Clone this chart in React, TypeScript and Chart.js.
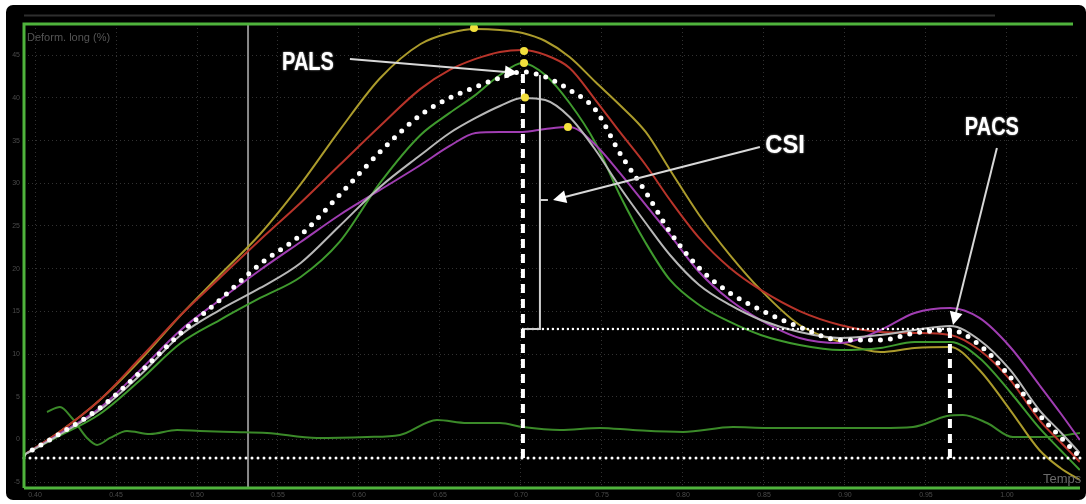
import React, { useEffect, useRef } from "react";
import { Chart, registerables } from "chart.js";

Chart.register(...registerables);

// ---- time samples (s) ----
const TIME = [0.393, 0.415, 0.440, 0.465, 0.490, 0.514, 0.539, 0.564, 0.588, 0.613, 0.638, 0.656, 0.672, 0.687, 0.701, 0.715, 0.730, 0.746, 0.761, 0.777, 0.792, 0.810, 0.829, 0.848, 0.872, 0.897, 0.922, 0.943, 0.965, 0.983, 1.002, 1.020, 1.033, 1.045];

// ---- longitudinal strain per segment (%) ----
const OLIVE = [-1.82, 0.88, 4.63, 9.31, 14.58, 19.26, 24.06, 29.90, 36.20, 42.30, 46.31, 47.60, 48.07, 47.95, 47.60, 46.66, 44.79, 41.86, 39.17, 36.01, 31.56, 26.29, 21.60, 17.51, 13.41, 11.42, 10.25, 10.71, 10.83, 8.14, 3.45, -1.23, -3.34, -4.74];
const RED = [-1.82, 0.88, 4.63, 9.54, 14.58, 18.91, 23.40, 27.73, 32.14, 36.71, 41.05, 43.27, 44.56, 45.38, 45.61, 45.03, 43.51, 39.75, 36.01, 32.14, 28.04, 23.60, 20.08, 17.51, 15.04, 13.41, 12.59, 12.47, 12.24, 10.48, 6.97, 2.28, -0.29, -2.63];
const GREEN = [-1.82, 0.41, 2.99, 6.97, 11.30, 13.99, 16.57, 19.03, 23.13, 30.04, 35.66, 38.24, 40.35, 42.68, 44.09, 42.68, 39.40, 34.72, 28.63, 23.01, 18.68, 15.75, 13.76, 12.24, 11.07, 10.48, 10.72, 11.42, 11.42, 9.54, 5.56, 1.35, -1.23, -3.57];
const GRAY = [-1.82, 0.53, 3.45, 7.55, 12.24, 15.16, 17.74, 20.67, 25.00, 29.57, 33.31, 35.89, 37.65, 39.05, 39.99, 39.75, 37.76, 33.90, 29.57, 25.35, 21.60, 18.09, 15.75, 13.99, 12.59, 11.89, 12.24, 12.82, 13.29, 11.65, 8.14, 3.45, 0.88, -1.58];
const PURPLE = [-1.82, 0.64, 3.69, 8.14, 12.82, 16.33, 19.85, 23.13, 26.29, 29.22, 32.14, 34.37, 35.89, 36.01, 36.01, 36.36, 36.59, 34.48, 31.21, 27.46, 23.95, 19.61, 16.33, 13.99, 11.89, 11.30, 12.82, 14.81, 15.40, 14.23, 10.83, 6.38, 3.10, -0.06];
const AVERAGE = [-1.82, 0.64, 3.69, 7.90, 12.47, 16.33, 20.55, 23.95, 28.63, 33.67, 38.00, 39.99, 41.28, 42.33, 43.04, 42.45, 40.93, 38.59, 33.55, 28.98, 24.30, 20.08, 17.16, 15.17, 13.17, 11.65, 11.65, 12.47, 12.82, 11.07, 7.32, 2.87, 0.29, -2.05];

// ---- low drift trace ----
const DRIFT_TIME = [0.4074, 0.4154, 0.4228, 0.4321, 0.4383, 0.4463, 0.4568, 0.4710, 0.4877, 0.5019, 0.5222, 0.5432, 0.5741, 0.6049, 0.6253, 0.6481, 0.6667, 0.6870, 0.7012, 0.7241, 0.7488, 0.7691, 0.8000, 0.8309, 0.8519, 0.8722, 0.9216, 0.9420, 0.9630, 0.9728, 0.9877, 1.0037, 1.0247, 1.0451];
const DRIFT = [3.22, 3.81, 2.52, 0.18, -0.64, 0.18, 1.00, 0.64, 1.11, 1.00, 0.88, 0.76, 0.18, 0.29, 0.53, 2.28, 1.93, 1.93, 1.46, 1.11, 1.35, 1.11, 0.88, 1.46, 1.35, 1.35, 1.35, 1.46, 2.75, 2.87, 1.93, 0.29, 0.29, 0.76];

// ---- peak markers ----
const PEAK_TIME = [0.6710, 0.7019, 0.7019, 0.7025, 0.7290];
const PEAK_STRAIN = [48.19, 45.49, 44.09, 40.05, 36.59];

// ---- axes ----
const TIME_TICKS = [0.40, 0.45, 0.50, 0.55, 0.60, 0.65, 0.70, 0.75, 0.80, 0.85, 0.90, 0.95, 1.00];
const STRAIN_TICKS = [-5, 0, 5, 10, 15, 20, 25, 30, 35, 40, 45];
const X_MIN = 0.3932;
const X_MAX = 1.0451;
const Y_MIN = -5.68;
const Y_MAX = 48.65;

// ---- annotation anchors (data coordinates) ----
const BASELINE = -2.17;
const MARK_T = 0.5315;
const PALS_T = 0.7012, PALS_S = 43.04;
const PACS_T = 0.9648, PACS_S = 12.82;
const CSI_T = 0.7117, CSI_TOP = 42.69, CSI_S = 12.94, CSI_TICK = 28.04;
const PALS_ARROW = [0.5944, 44.56, 0.6981, 42.91];
const CSI_ARROW = [0.8475, 34.25, 0.7198, 28.04];
const PACS_ARROW = [0.9938, 34.13, 0.9667, 13.41];
const PALS_TEXT = [0.5685, 43.27];
const CSI_TEXT = [0.8630, 33.55];
const PACS_TEXT = [0.9907, 35.66];

const zip = (xs: number[], ys: number[]) => xs.map((x, i) => ({ x, y: ys[i] }));

function arrow(ctx: CanvasRenderingContext2D, x1: number, y1: number, x2: number, y2: number, head: number) {
  const a = Math.atan2(y2 - y1, x2 - x1);
  ctx.strokeStyle = "#d8d8d8";
  ctx.lineWidth = 2;
  ctx.setLineDash([]);
  ctx.beginPath();
  ctx.moveTo(x1, y1);
  ctx.lineTo(x2 - Math.cos(a) * head * 0.7, y2 - Math.sin(a) * head * 0.7);
  ctx.stroke();
  ctx.fillStyle = "#ffffff";
  ctx.beginPath();
  ctx.moveTo(x2, y2);
  ctx.lineTo(x2 - head * Math.cos(a) + head * 0.5 * Math.sin(a), y2 - head * Math.sin(a) - head * 0.5 * Math.cos(a));
  ctx.lineTo(x2 - head * Math.cos(a) - head * 0.5 * Math.sin(a), y2 - head * Math.sin(a) + head * 0.5 * Math.cos(a));
  ctx.closePath();
  ctx.fill();
}

function label(ctx: CanvasRenderingContext2D, text: string, x: number, y: number, sx: number) {
  ctx.save();
  ctx.translate(x, y);
  ctx.scale(sx, 1);
  ctx.font = 'bold 25px "Liberation Sans", Arial, sans-serif';
  ctx.textAlign = "center";
  ctx.textBaseline = "alphabetic";
  ctx.shadowColor = "rgba(255,255,255,0.7)";
  ctx.shadowBlur = 2;
  ctx.fillStyle = "#ffffff";
  ctx.fillText(text, 0, 0);
  ctx.restore();
}

const overlay = {
  id: "overlay",
  beforeDraw(chart: any) {
    const { ctx, width, height } = chart;
    ctx.save();
    ctx.fillStyle = "#ffffff";
    ctx.fillRect(0, 0, width, height);
    ctx.fillStyle = "#000000";
    ctx.beginPath();
    ctx.roundRect(6, 5, 1080, 495, 7);
    ctx.fill();
    ctx.strokeStyle = "#2e2e2e";
    ctx.lineWidth = 2;
    ctx.beginPath();
    ctx.moveTo(24, 15.5);
    ctx.lineTo(995, 15.5);
    ctx.stroke();
    ctx.restore();
  },
  beforeDatasetsDraw(chart: any) {
    const { ctx, chartArea } = chart;
    const xs = chart.scales.x;
    ctx.save();
    const mx = xs.getPixelForValue(MARK_T);
    ctx.strokeStyle = "#8a8a8a";
    ctx.lineWidth = 2;
    ctx.beginPath();
    ctx.moveTo(mx, chartArea.top);
    ctx.lineTo(mx, chartArea.bottom);
    ctx.stroke();
    ctx.restore();
  },
  afterDatasetDraw(chart: any, args: any) {
    if (args.index !== 1) return;
    const { ctx, chartArea } = chart;
    const xs = chart.scales.x;
    const ys = chart.scales.y;
    const X = (v: number) => xs.getPixelForValue(v);
    const Y = (v: number) => ys.getPixelForValue(v);
    ctx.save();
    ctx.lineCap = "round";
    ctx.strokeStyle = "#ffffff";
    ctx.lineWidth = 3;
    ctx.setLineDash([0, 6]);
    ctx.beginPath();
    ctx.moveTo(chartArea.left, Y(BASELINE));
    ctx.lineTo(chartArea.right + 3, Y(BASELINE));
    ctx.stroke();
    ctx.lineWidth = 2.5;
    ctx.setLineDash([0, 5]);
    ctx.beginPath();
    ctx.moveTo(X(PALS_T), Y(CSI_S));
    ctx.lineTo(X(PACS_T), Y(CSI_S));
    ctx.stroke();
    ctx.lineCap = "butt";
    ctx.setLineDash([]);
    ctx.strokeStyle = "#cfcfcf";
    ctx.lineWidth = 2;
    ctx.beginPath();
    ctx.moveTo(X(CSI_T), Y(CSI_TOP));
    ctx.lineTo(X(CSI_T), Y(CSI_S));
    ctx.lineTo(X(PALS_T), Y(CSI_S));
    ctx.moveTo(X(CSI_T), Y(CSI_TICK));
    ctx.lineTo(X(CSI_T) + 8, Y(CSI_TICK));
    ctx.stroke();
    ctx.strokeStyle = "#ffffff";
    ctx.lineWidth = 4;
    ctx.setLineDash([9, 6]);
    ctx.beginPath();
    ctx.moveTo(X(PALS_T), Y(BASELINE));
    ctx.lineTo(X(PALS_T), Y(PALS_S));
    ctx.moveTo(X(PACS_T), Y(BASELINE));
    ctx.lineTo(X(PACS_T), Y(PACS_S));
    ctx.stroke();
    ctx.setLineDash([]);
    arrow(ctx, X(PALS_ARROW[0]), Y(PALS_ARROW[1]), X(PALS_ARROW[2]), Y(PALS_ARROW[3]), 13);
    arrow(ctx, X(CSI_ARROW[0]), Y(CSI_ARROW[1]), X(CSI_ARROW[2]), Y(CSI_ARROW[3]), 13);
    arrow(ctx, X(PACS_ARROW[0]), Y(PACS_ARROW[1]), X(PACS_ARROW[2]), Y(PACS_ARROW[3]), 13);
    ctx.restore();
  },
  afterDraw(chart: any) {
    const { ctx, chartArea } = chart;
    const xs = chart.scales.x;
    const ys = chart.scales.y;
    const X = (v: number) => xs.getPixelForValue(v);
    const Y = (v: number) => ys.getPixelForValue(v);
    ctx.save();
    ctx.strokeStyle = "#4fb33c";
    ctx.lineWidth = 3;
    ctx.beginPath();
    ctx.moveTo(chartArea.left, chartArea.bottom);
    ctx.lineTo(chartArea.left, chartArea.top);
    ctx.lineTo(1073, chartArea.top);
    ctx.moveTo(chartArea.left, chartArea.bottom);
    ctx.lineTo(chartArea.right, chartArea.bottom);
    ctx.stroke();
    ctx.fillStyle = "#555555";
    ctx.font = '11px "Liberation Sans", Arial, sans-serif';
    ctx.textAlign = "left";
    ctx.textBaseline = "alphabetic";
    ctx.fillText("Deform. long (%)", 27, 41);
    ctx.fillStyle = "#6a6a6a";
    ctx.font = '13px "Liberation Sans", Arial, sans-serif';
    ctx.fillText("Temps", 1043, 483);
    label(ctx, "PALS", X(PALS_TEXT[0]), Y(PALS_TEXT[1]), 0.8);
    label(ctx, "CSI", X(CSI_TEXT[0]), Y(CSI_TEXT[1]), 0.95);
    label(ctx, "PACS", X(PACS_TEXT[0]), Y(PACS_TEXT[1]), 0.8);
    ctx.restore();
  },
};

export default function App() {
  const ref = useRef<HTMLCanvasElement | null>(null);
  useEffect(() => {
    if (!ref.current) return;
    Chart.defaults.font.family = '"Liberation Sans", Arial, sans-serif';
    const curve = (data: number[], color: string) => ({
      type: "line" as const,
      data: zip(TIME, data),
      borderColor: color,
      borderWidth: 2,
      pointRadius: 0,
      cubicInterpolationMode: "monotone" as const,
      fill: false,
    });
    const chart = new Chart(ref.current, {
      type: "line",
      data: {
        datasets: [
          {
            type: "line",
            data: zip(PEAK_TIME, PEAK_STRAIN),
            showLine: false,
            pointRadius: 4,
            pointBackgroundColor: "#f3e03c",
            pointBorderWidth: 0,
            borderColor: "#f3e03c",
          } as any,
          {
            ...curve(AVERAGE, "#ffffff"),
            borderWidth: 5,
            borderDash: [0, 10],
            borderCapStyle: "round",
          } as any,
          curve(GRAY, "#b8b8b8"),
          curve(PURPLE, "#a03db2"),
          curve(GREEN, "#3f9a2e"),
          curve(RED, "#b8342a"),
          curve(OLIVE, "#ab9b2c"),
          {
            type: "line",
            data: zip(DRIFT_TIME, DRIFT),
            borderColor: "#3b8a29",
            borderWidth: 2,
            pointRadius: 0,
            cubicInterpolationMode: "monotone",
            fill: false,
          } as any,
        ],
      },
      options: {
        animation: false,
        responsive: false,
        events: [],
        layout: { padding: { left: 0, right: 6, top: 24, bottom: 0 } },
        plugins: { legend: { display: false }, tooltip: { enabled: false } },
        scales: {
          x: {
            type: "linear",
            min: X_MIN,
            max: X_MAX,
            afterBuildTicks: (s: any) => {
              s.ticks = TIME_TICKS.map((v) => ({ value: v }));
            },
            afterFit: (s: any) => {
              s.height = 16;
            },
            grid: { color: "rgba(110,110,110,0.45)", lineWidth: 1, drawTicks: false },
            border: { display: false, dash: [1, 3] },
            ticks: {
              color: "#4a4a4a",
              font: { size: 7 },
              padding: 3,
              maxRotation: 0,
              autoSkip: false,
              callback: (v: any) => Number(v).toFixed(2),
            },
          },
          y: {
            type: "linear",
            min: Y_MIN,
            max: Y_MAX,
            afterBuildTicks: (s: any) => {
              s.ticks = STRAIN_TICKS.map((v) => ({ value: v }));
            },
            afterFit: (s: any) => {
              s.width = 24;
            },
            grid: { color: "rgba(110,110,110,0.45)", lineWidth: 1, drawTicks: false },
            border: { display: false, dash: [1, 3] },
            ticks: {
              color: "#4a4a4a",
              font: { size: 7 },
              padding: 4,
              autoSkip: false,
              callback: (v: any) => String(v),
            },
          },
        },
      },
      plugins: [overlay],
    } as any);
    return () => chart.destroy();
  }, []);
  return (
    <div style={{ position: "fixed", left: 0, top: 0, width: 1086, height: 504 }}>
      <canvas ref={ref} width={1086} height={504} style={{ display: "block", width: 1086, height: 504 }} />
    </div>
  );
}
